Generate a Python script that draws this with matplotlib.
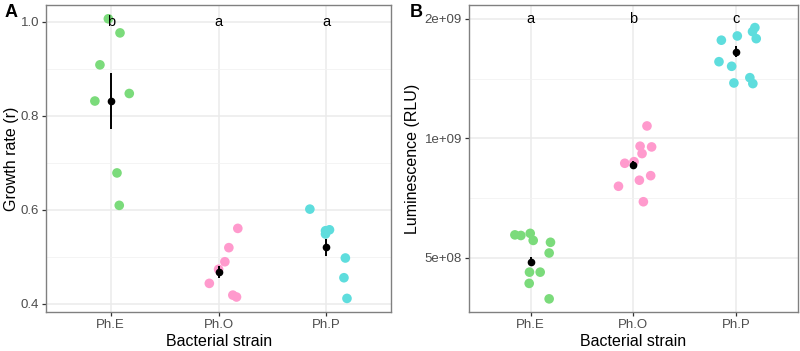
import numpy as np
import matplotlib
matplotlib.use("Agg")
from matplotlib import pyplot as plt
from matplotlib.ticker import FixedLocator, NullFormatter

plt.rcParams['font.family'] = ['Liberation Sans', 'DejaVu Sans']

strains = ["Ph.E", "Ph.O", "Ph.P"]
colors = ["#7BDB7B", "#FF9ACD", "#5EDDDD"]

# Panel A: growth rate (r), x jitter as offsets from category centre
growth_E = [1.006, 0.976, 0.908, 0.831, 0.847, 0.678, 0.609]
jit_gE = [-0.022, 0.086, -0.10, -0.147, 0.172, 0.058, 0.079]
growth_O = [0.443, 0.473, 0.489, 0.519, 0.560, 0.418, 0.414]
jit_gO = [-0.086, 0.0, 0.058, 0.095, 0.178, 0.132, 0.166]
growth_P = [0.601, 0.557, 0.555, 0.548, 0.497, 0.455, 0.411]
jit_gP = [-0.154, 0.028, -0.009, -0.009, 0.175, 0.162, 0.19]
growth_mean = [0.831, 0.467, 0.520]
growth_se = [0.060, 0.013, 0.018]
growth_letters = ["b", "a", "a"]

# Panel B: luminescence (RLU)
lum_E = [0.571e9, 0.569e9, 0.576e9, 0.553e9, 0.547e9, 0.514e9, 0.460e9, 0.460e9, 0.431e9, 0.394e9]
jit_lE = [-0.152, -0.094, -0.003, 0.026, 0.194, 0.181, -0.01, 0.094, -0.013, 0.181]
lum_O = [1.074e9, 0.955e9, 0.951e9, 0.915e9, 0.865e9, 0.873e9, 0.784e9, 0.805e9, 0.757e9, 0.692e9]
jit_lO = [0.132, 0.065, 0.177, 0.084, -0.084, 0.006, 0.058, 0.168, -0.145, 0.097]
lum_P = [1.900e9, 1.856e9, 1.782e9, 1.810e9, 1.766e9, 1.559e9, 1.518e9, 1.378e9, 1.421e9, 1.373e9]
jit_lP = [0.181, 0.158, 0.194, 0.01, -0.145, -0.168, -0.045, -0.023, 0.132, 0.161]
lum_mean = [0.489e9, 0.858e9, 1.653e9]
lum_lo = [0.477e9, 0.838e9, 1.600e9]
lum_hi = [0.501e9, 0.878e9, 1.705e9]
lum_letters = ["a", "b", "c"]

fig = plt.figure(figsize=(8, 3.51), dpi=100)
axA = fig.add_axes([0.0575, 0.111, 0.4315, 0.875])
axB = fig.add_axes([0.586, 0.111, 0.4115, 0.875])

def style(ax):
    ax.set_facecolor("white")
    ax.set_axisbelow(True)
    ax.grid(which="major", color="#EBEBEB", lw=1.1)
    ax.grid(which="minor", color="#F2F2F2", lw=0.6)
    for s in ax.spines.values():
        s.set_color("#808080")
        s.set_linewidth(1.0)
    ax.tick_params(which="major", colors="#333333", labelcolor="#4D4D4D",
                   labelsize=9.5, length=3, width=0.9, pad=2)
    ax.tick_params(which="minor", length=0)
    ax.set_xlim(0.4, 3.6)
    ax.set_xticks([1, 2, 3])
    ax.set_xticklabels(strains)
    ax.set_xlabel("Bacterial strain", fontsize=11.5, labelpad=2)

# --- Panel A
style(axA)
groups = [(growth_E, jit_gE), (growth_O, jit_gO), (growth_P, jit_gP)]
for i, (vals, jit) in enumerate(groups):
    x = np.array(jit) + i + 1
    axA.scatter(x, vals, s=48, color=colors[i], edgecolors="none", zorder=3)
axA.errorbar([1, 2, 3], growth_mean, yerr=growth_se, fmt="o", color="black",
             ms=4.5, elinewidth=1.4, capsize=0, zorder=4)
for i, t in enumerate(growth_letters):
    axA.text(i + 1, 1.0, t, ha="center", va="center", fontsize=10.5, zorder=5)
axA.set_ylim(0.382, 1.0355)
axA.yaxis.set_major_locator(FixedLocator([0.4, 0.6, 0.8, 1.0]))
axA.yaxis.set_minor_locator(FixedLocator([0.5, 0.7, 0.9]))
axA.set_yticklabels(["0.4", "0.6", "0.8", "1.0"])
axA.set_ylabel("Growth rate (r)", fontsize=11.5, labelpad=1)

# --- Panel B
style(axB)
axB.set_yscale("log", base=2)
groups = [(lum_E, jit_lE), (lum_O, jit_lO), (lum_P, jit_lP)]
for i, (vals, jit) in enumerate(groups):
    x = np.array(jit) + i + 1
    axB.scatter(x, vals, s=48, color=colors[i], edgecolors="none", zorder=3)
yerr = [np.array(lum_mean) - np.array(lum_lo), np.array(lum_hi) - np.array(lum_mean)]
axB.errorbar([1, 2, 3], lum_mean, yerr=yerr, fmt="o", color="black",
             ms=4.5, elinewidth=1.4, capsize=0, zorder=4)
for i, t in enumerate(lum_letters):
    axB.text(i + 1, 2e9, t, ha="center", va="center", fontsize=10.5, zorder=5)
axB.set_ylim(0.365e9, 2.167e9)
axB.yaxis.set_major_locator(FixedLocator([5e8, 1e9, 2e9]))
axB.yaxis.set_minor_locator(FixedLocator([5e8 / np.sqrt(2), 1e9 / np.sqrt(2), 2e9 / np.sqrt(2)]))
axB.yaxis.set_minor_formatter(NullFormatter())
axB.set_yticklabels(["5e+08", "1e+09", "2e+09"])
axB.set_ylabel("Luminescence (RLU)", fontsize=11.5, labelpad=3)

fig.text(0.006, 0.965, "A", fontsize=13, fontweight="bold", va="center")
fig.text(0.512, 0.965, "B", fontsize=13, fontweight="bold", va="center")

fig.savefig("out.png", dpi=100, facecolor="white")
